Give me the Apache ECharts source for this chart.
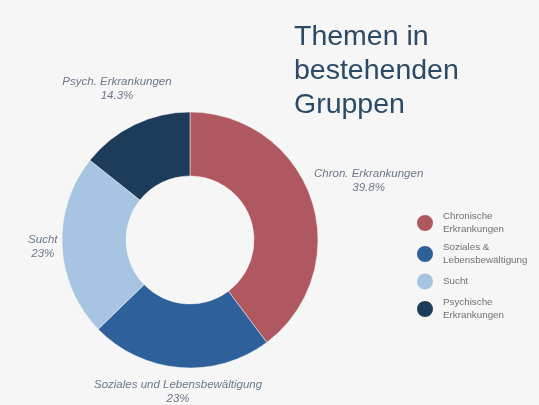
<!DOCTYPE html>
<html><head><meta charset="utf-8">
<script src="https://cdn.jsdelivr.net/npm/echarts@6/dist/echarts.min.js"></script>
<style>html,body{margin:0;padding:0;background:#f6f6f7}#c{width:539px;height:405px}</style>
</head><body><div id="c"></div>
<script>
var titleText = 'Themen in\nbestehenden\nGruppen';
var categories = ['Chronische Erkrankungen', 'Soziales & Lebensbewältigung', 'Sucht', 'Psychische Erkrankungen'];
var legendLabels = ['Chronische\nErkrankungen', 'Soziales &\nLebensbewältigung', 'Sucht', 'Psychische\nErkrankungen'];
var sliceLabels = ['Chron. Erkrankungen', 'Soziales und Lebensbewältigung', 'Sucht', 'Psych. Erkrankungen'];
var values = [39.8, 23, 23, 14.3];
var colors = ['#b0585f', '#2e6199', '#a7c5e2', '#1c3c5a'];

var chart = echarts.init(document.getElementById('c'));
var data = categories.map(function (c, i) {
  return { name: c, value: values[i], itemStyle: { color: colors[i] } };
});
chart.setOption({
  backgroundColor: '#f6f6f7',
  title: {
    text: titleText, left: 289, top: 15,
    textStyle: { fontFamily: 'Liberation Sans', fontSize: 28.5, fontWeight: 'normal', color: '#2c4a65', lineHeight: 34 }
  },
  legend: {
    orient: 'vertical', left: 410, top: 204.5,
    icon: 'circle', itemWidth: 18, itemHeight: 18, itemGap: 4,
    formatter: function (n) { return legendLabels[categories.indexOf(n)]; },
    textStyle: { fontFamily: 'Liberation Sans', fontSize: 9.8, color: '#707070', lineHeight: 13.5, padding: [0, 0, 0, 4] }
  },
  series: [{
    type: 'pie',
    center: [190, 240],
    radius: [64, 128],
    startAngle: 90,
    clockwise: true,
    avoidLabelOverlap: false,
    itemStyle: { borderColor: '#f6f6f7', borderWidth: 0.5 },
    label: {
      position: 'outside',
      formatter: function (p) { return sliceLabels[p.dataIndex] + '\n' + p.value + '%'; },
      fontFamily: 'Liberation Sans', fontStyle: 'italic', fontSize: 11.5, color: '#6b7888', lineHeight: 14
    },
    labelLine: { show: true, length: 4, length2: 0, lineStyle: { opacity: 0 } },
    labelLayout: function (p) {
      var pts = p.labelLinePoints;
      if (!pts) return {};
      var dx = pts[1][0] - pts[0][0], dy = pts[1][1] - pts[0][1];
      var len = Math.sqrt(dx * dx + dy * dy) || 1;
      dx /= len; dy /= len;
      var w = p.labelRect.width, h = p.labelRect.height;
      var t = Math.abs(dx) * w / 2 + Math.abs(dy) * h / 2;
      return { x: pts[1][0] + dx * t, y: pts[1][1] + dy * t, align: 'center', verticalAlign: 'middle' };
    },
    data: data
  }]
});
</script></body></html>
